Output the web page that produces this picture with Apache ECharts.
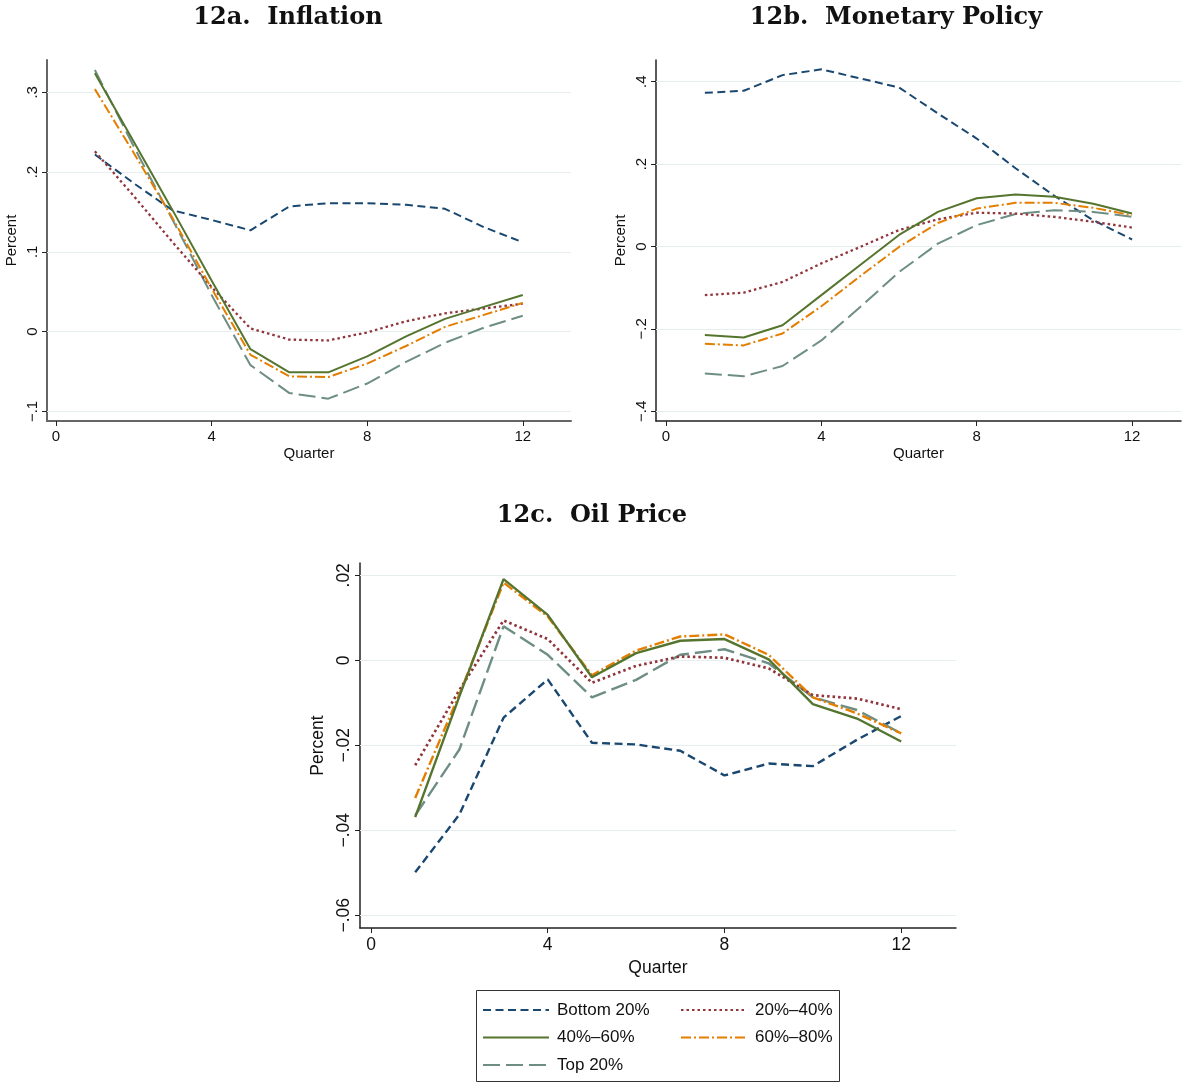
<!DOCTYPE html>
<html><head><meta charset="utf-8">
<script src="https://cdn.jsdelivr.net/npm/echarts@6/dist/echarts.min.js"></script>
<style>html,body{margin:0;padding:0;background:#fff}#c{width:1182px;height:1083px}</style>
</head><body><div id="c"></div>
<script>
// ---------- data ----------
const quarters = [1,2,3,4,5,6,7,8,9,10,11,12];
const groupNames = ['Bottom 20%','20%–40%','40%–60%','60%–80%','Top 20%'];

const inflBottom = [0.222,0.186,0.152,0.140,0.127,0.157,0.161,0.161,0.159,0.154,0.131,0.112];
const infl2040   = [0.226,0.170,0.112,0.056,0.004,-0.010,-0.011,-0.001,0.013,0.023,0.029,0.035];
const infl4060   = [0.324,0.238,0.152,0.064,-0.022,-0.051,-0.051,-0.031,-0.006,0.016,0.031,0.046];
const infl6080   = [0.304,0.224,0.142,0.054,-0.029,-0.056,-0.057,-0.040,-0.018,0.006,0.021,0.036];
const inflTop    = [0.328,0.232,0.140,0.046,-0.042,-0.077,-0.084,-0.065,-0.038,-0.014,0.005,0.020];

const monBottom = [0.373,0.378,0.416,0.430,0.408,0.386,0.323,0.262,0.190,0.123,0.064,0.017];
const mon2040   = [-0.118,-0.112,-0.086,-0.041,-0.001,0.040,0.066,0.082,0.080,0.072,0.060,0.046];
const mon4060   = [-0.215,-0.221,-0.191,-0.118,-0.045,0.028,0.084,0.117,0.126,0.121,0.104,0.080];
const mon6080   = [-0.236,-0.240,-0.211,-0.145,-0.072,-0.001,0.057,0.092,0.106,0.106,0.094,0.076];
const monTop    = [-0.308,-0.315,-0.290,-0.228,-0.147,-0.062,0.007,0.052,0.079,0.088,0.084,0.072];

const oilBottom = [-0.0499,-0.0363,-0.0135,-0.0045,-0.0194,-0.0198,-0.0213,-0.0271,-0.0243,-0.0249,-0.0187,-0.0131];
const oil2040   = [-0.0247,-0.0070,0.0094,0.0050,-0.0053,-0.0013,0.0009,0.0006,-0.0019,-0.0082,-0.0090,-0.0115];
const oil4060   = [-0.0369,-0.0085,0.0191,0.0107,-0.0040,0.0017,0.0046,0.0050,0.0002,-0.0103,-0.0137,-0.0191];
const oil6080   = [-0.0324,-0.0080,0.0183,0.0103,-0.0035,0.0023,0.0056,0.0061,0.0013,-0.0087,-0.0125,-0.0172];
const oilTop    = [-0.0365,-0.0210,0.0080,0.0013,-0.0087,-0.0046,0.0013,0.0026,-0.0007,-0.0087,-0.0117,-0.0172];

const xTicks    = [0,4,8,12];
const inflTicks = [-0.1,0,0.1,0.2,0.3];
const monTicks  = [-0.4,-0.2,0,0.2,0.4];
const oilTicks  = [-0.06,-0.04,-0.02,0,0.02];

const panelTitles = ['12a.  Inflation','12b.  Monetary Policy','12c.  Oil Price'];

// ---------- styles ----------
const colors = ['#1a476f','#90353b','#55752f','#e37e00','#6e8e84'];
const dashes = [[8,4.5],[2.5,3],'solid',[10,3,2,3],[17,6]];
const SANS = '"Liberation Sans", Arial, sans-serif';

const panels = [
  {grid:{left:47,top:60,width:524,height:361}, xr:[-0.231,13.24], yr:[-0.112,0.3405], ticks:inflTicks,
   data:[inflBottom,infl2040,infl4060,infl6080,inflTop], fs:15, lw:2, axc:'#666', axw:2, ygap:28, xgap:25, tx:288, ty:18},
  {grid:{left:656,top:60,width:525,height:361}, xr:[-0.258,13.26], yr:[-0.4235,0.4527], ticks:monTicks,
   data:[monBottom,mon2040,mon4060,mon6080,monTop], fs:15, lw:2, axc:'#222', axw:1.5, ygap:28, xgap:25, tx:896, ty:18},
  {grid:{left:360,top:563,width:596,height:365}, xr:[-0.249,13.24], yr:[-0.063,0.0229], ticks:oilTicks,
   data:[oilBottom,oil2040,oil4060,oil6080,oilTop], fs:17.5, lw:2.4, axc:'#222', axw:1.5, ygap:30, xgap:31, tx:592, ty:516}
];

function fmt(v){
  if (Math.abs(v) < 1e-9) return '0';
  const s = (Math.round(Math.abs(v)*1000)/1000).toString().replace(/^0\./,'.');
  return (v<0?'−':'') + s;
}

const grids=[], xAxes=[], yAxes=[], series=[], graphics=[];
panels.forEach((p,i)=>{
  grids.push(Object.assign({containLabel:false}, p.grid));
  const common = (c)=>({
    axisLine:{show:true,onZero:false,lineStyle:{color:p.axc,width:p.axw}},
    axisTick:{show:true,length:5,customValues:c,lineStyle:{color:'#222',width:1}},
    splitLine:{show:false},
    nameTextStyle:{fontFamily:SANS,fontSize:p.fs,color:'#111'}
  });
  xAxes.push(Object.assign(common(xTicks),{
    type:'value', gridIndex:i, min:p.xr[0], max:p.xr[1],
    name:'Quarter', nameLocation:'middle', nameGap:p.xgap,
    axisLabel:{customValues:xTicks, formatter:fmt, fontFamily:SANS, fontSize:p.fs, color:'#111', margin:8}
  }));
  yAxes.push(Object.assign(common(p.ticks),{
    type:'value', gridIndex:i, min:p.yr[0], max:p.yr[1],
    name:'Percent', nameLocation:'middle', nameGap:p.ygap,
    axisLabel:{customValues:p.ticks, formatter:fmt, rotate:90, fontFamily:SANS, fontSize:p.fs, color:'#111', margin:7}
  }));
  p.data.forEach((arr,k)=>{
    const s = {
      type:'line', name:groupNames[k], xAxisIndex:i, yAxisIndex:i,
      data: quarters.map((q,j)=>[q,arr[j]]),
      symbol:'none', smooth:false, z:3 + (k===4?0:k===2?4:k),
      lineStyle:{color:colors[k], width:(k===1?p.lw+0.3:p.lw), type:dashes[k]},
      itemStyle:{color:colors[k]}
    };
    if (k===0) {
      s.markLine = {
        silent:true, symbol:'none', z:1, animation:false,
        label:{show:false},
        lineStyle:{color:'#e6eef0', width:1.2, type:'solid'},
        emphasis:{disabled:true},
        data: p.ticks.map(t=>({yAxis:t}))
      };
    }
    series.push(s);
  });
  graphics.push({type:'text', x:p.tx, y:p.ty, style:{text:panelTitles[i], font:'bold 24px "DejaVu Serif", serif', fill:'#111', textAlign:'center', textVerticalAlign:'middle'}});
});

graphics.push({type:'rect', shape:{x:476.5,y:990.5,width:363,height:91}, style:{fill:'none', stroke:'#333', lineWidth:1}});

const legendCommon = {
  orient:'vertical', top:1000, itemWidth:66, itemHeight:20, itemGap:7.5, padding:0,
  itemStyle:{opacity:0},
  textStyle:{fontFamily:SANS, fontSize:17, color:'#111', lineHeight:20, padding:[0,0,0,3]},
  selectedMode:false
};

const option = {
  animation:false,
  backgroundColor:'#fff',
  grid:grids, xAxis:xAxes, yAxis:yAxes, series:series,
  legend:[
    Object.assign({left:482, data:[groupNames[0],groupNames[2],groupNames[4]]}, legendCommon),
    Object.assign({left:680, data:[groupNames[1],groupNames[3]]}, legendCommon)
  ],
  graphic:graphics
};
const chart = echarts.init(document.getElementById('c'), null, {renderer:'canvas'});
chart.setOption(option);
</script></body></html>
